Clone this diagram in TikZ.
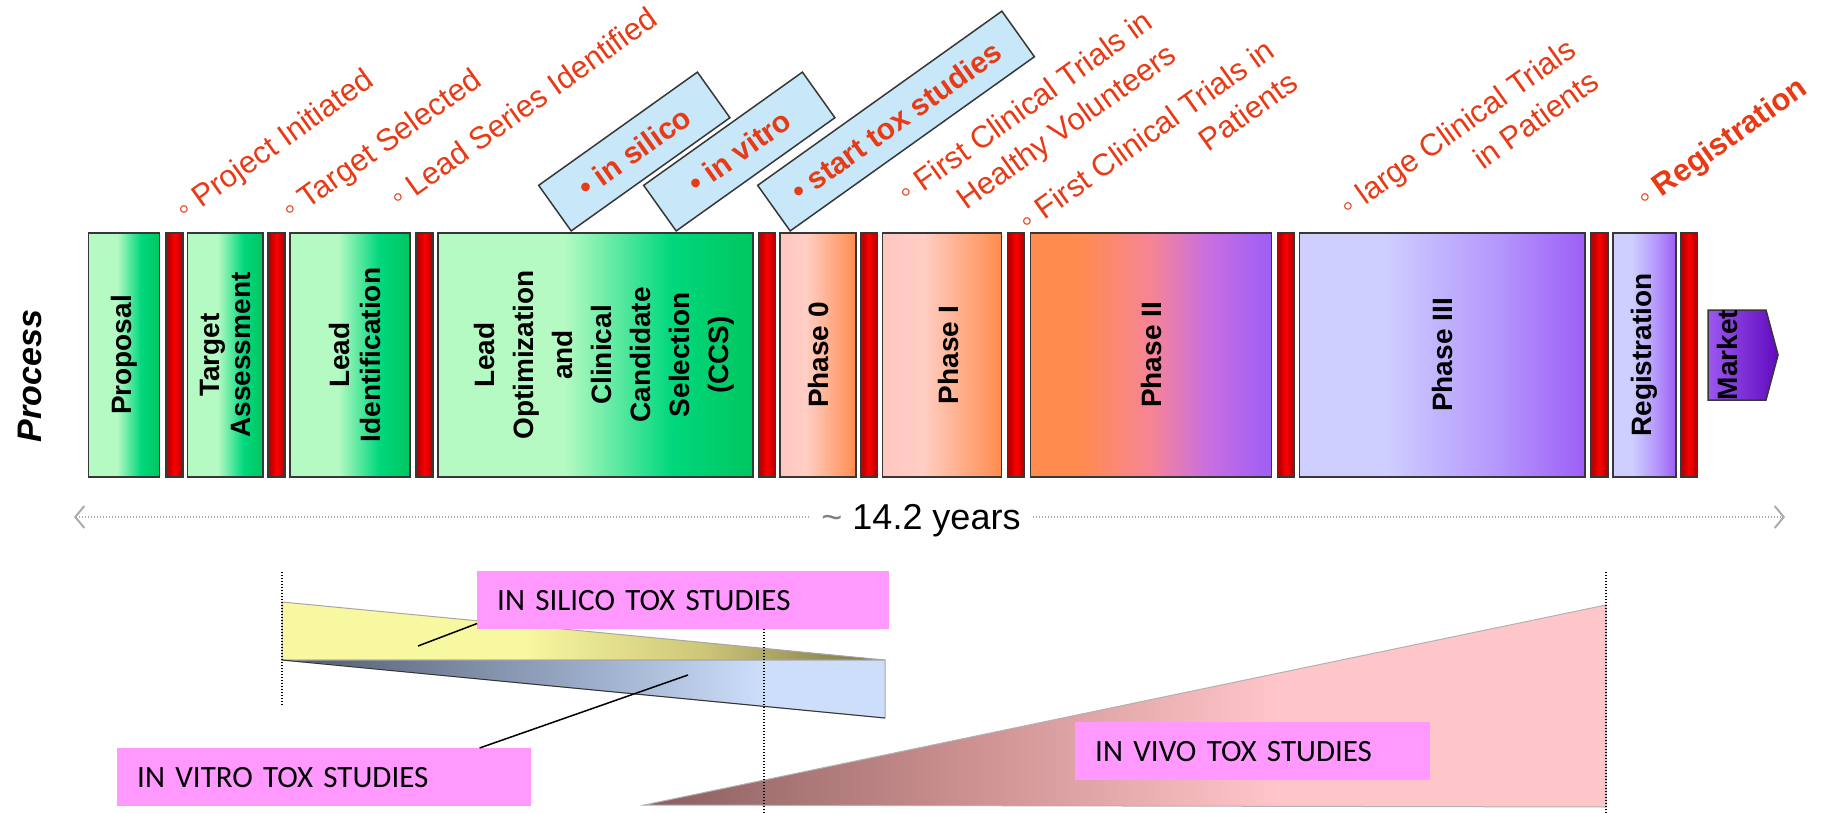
\documentclass[tikz,border=0pt]{standalone}
\usepackage{fontspec}
\setmainfont{Liberation Sans}
\newfontfamily\calib{Carlito}
\usepackage{xcolor}
\usepackage{tikz}
\usetikzlibrary{arrows.meta,positioning,calc,shapes.symbols}
\definecolor{msred}{RGB}{232,58,20}
\definecolor{toxblue}{RGB}{200,232,250}
\definecolor{edgegray}{RGB}{55,55,55}
\definecolor{studypink}{RGB}{255,153,255}
\definecolor{gLight}{RGB}{182,250,195}
\definecolor{gMid}{RGB}{0,216,125}
\definecolor{gDark}{RGB}{0,198,95}
\definecolor{oLight}{RGB}{255,198,192}
\definecolor{oPale}{RGB}{255,206,196}
\definecolor{oDeep}{RGB}{255,140,78}
\definecolor{pPink}{RGB}{246,132,150}
\definecolor{pMag}{RGB}{200,110,225}
\definecolor{pDeep}{RGB}{158,94,246}
\definecolor{lavLight}{RGB}{206,206,255}
\definecolor{lavMid}{RGB}{180,150,252}
\definecolor{mkLight}{RGB}{155,88,240}
\definecolor{mkDark}{RGB}{98,10,190}
\definecolor{rDark}{RGB}{190,0,0}
\definecolor{rBright}{RGB}{255,0,0}
\definecolor{yLight}{RGB}{248,248,160}
\definecolor{yMid}{RGB}{205,198,120}
\definecolor{yDark}{RGB}{118,112,68}
\definecolor{sDark}{RGB}{78,88,108}
\definecolor{sMid}{RGB}{155,172,200}
\definecolor{sLight}{RGB}{204,222,250}
\definecolor{vDark}{RGB}{138,94,94}
\definecolor{vMid}{RGB}{205,145,145}
\definecolor{vLight}{RGB}{255,198,202}
\pgfdeclarehorizontalshading{greenstage}{100bp}{color(0bp)=(gLight); color(25bp)=(gLight); color(45bp)=(gLight); color(62bp)=(gMid); color(75bp)=(gDark); color(100bp)=(gDark)}
\pgfdeclarehorizontalshading{orangestage}{100bp}{color(0bp)=(oLight); color(25bp)=(oLight); color(42bp)=(oPale); color(75bp)=(oDeep); color(100bp)=(oDeep)}
\pgfdeclarehorizontalshading{phasetwo}{100bp}{color(0bp)=(oDeep); color(25bp)=(oDeep); color(35bp)=(oDeep); color(50bp)=(pPink); color(62bp)=(pMag); color(75bp)=(pDeep); color(100bp)=(pDeep)}
\pgfdeclarehorizontalshading{lavstage}{100bp}{color(0bp)=(lavLight); color(25bp)=(lavLight); color(40bp)=(lavLight); color(60bp)=(lavMid); color(75bp)=(pDeep); color(100bp)=(pDeep)}
\pgfdeclarehorizontalshading{marketfill}{100bp}{color(0bp)=(mkLight); color(25bp)=(mkLight); color(75bp)=(mkDark); color(100bp)=(mkDark)}
\pgfdeclarehorizontalshading{redgate}{100bp}{color(0bp)=(rDark); color(25bp)=(rDark); color(32bp)=(rDark); color(50bp)=(rBright); color(68bp)=(rDark); color(75bp)=(rDark); color(100bp)=(rDark)}
\pgfdeclarehorizontalshading{yellowtox}{100bp}{color(0bp)=(yLight); color(25bp)=(yLight); color(45bp)=(yLight); color(60bp)=(yMid); color(75bp)=(yDark); color(100bp)=(yDark)}
\pgfdeclarehorizontalshading{slatetox}{100bp}{color(0bp)=(sDark); color(25bp)=(sDark); color(50bp)=(sMid); color(65bp)=(sLight); color(100bp)=(sLight)}
\pgfdeclarehorizontalshading{vivotox}{100bp}{color(0bp)=(vDark); color(25bp)=(vDark); color(42bp)=(vMid); color(58bp)=(vLight); color(100bp)=(vLight)}

\begin{document}
\begin{tikzpicture}[x=1pt, y=-1pt,
    stage/.style={draw=edgegray, line width=1.5pt, shade, minimum height=244pt, inner sep=0pt},
    gate/.style={stage, shading=redgate, minimum width=17pt},
    vlabel/.style={rotate=90, align=center, inner sep=0pt, font=\bfseries\fontsize{28}{31}\selectfont},
    milestone/.style={rotate=35.5, align=right, inner sep=0pt, text=msred, font=\fontsize{31}{40}\selectfont},
    toxbox/.style={rotate=35.5, anchor=south west, draw=edgegray, line width=1.5pt, fill=toxblue, minimum height=56pt, text=msred, font=\bfseries\fontsize{30}{36}\selectfont},
    studybox/.style={anchor=north west, fill=studypink, minimum height=58pt, inner xsep=20pt, inner ysep=0pt, align=left, font=\calib\fontsize{31}{37}\selectfont},
    guide/.style={black, line width=1.2pt, dash pattern=on 1pt off 2pt},
    dotrule/.style={draw=gray!65, line width=1.5pt, dash pattern=on 1.2pt off 1.8pt, -{Straight Barb[length=9pt,width=22pt,line width=2pt]}},
    lead/.style={black, line width=1.5pt}
  ]
    \fill[white] (0,0) rectangle (1826,813);
    \useasboundingbox (0,0) rectangle (1826,813);

    \node[rotate=90, font=\bfseries\itshape\fontsize{34}{40}\selectfont] (process) at (30,376) {Process};

    % stages
    \node[stage, shading=greenstage, minimum width=71pt] (proposal) at (124,355) {};
    \node[stage, shading=greenstage, minimum width=75.5pt] (target) at (225.3,355) {};
    \node[stage, shading=greenstage, minimum width=120pt] (leadid) at (350,355) {};
    \node[stage, shading=greenstage, minimum width=315pt] (leadopt) at (595.5,355) {};
    \node[stage, shading=orangestage, minimum width=76pt] (phase0) at (818,355) {};
    \node[stage, shading=orangestage, minimum width=119pt] (phase1) at (942,355) {};
    \node[stage, shading=phasetwo, minimum width=241pt] (phase2) at (1151,355) {};
    \node[stage, shading=lavstage, minimum width=285.4pt] (phase3) at (1442.3,355) {};
    \node[stage, shading=lavstage, minimum width=63pt] (regist) at (1644.5,355) {};
    \foreach \gx [count=\i] in {174.6,276.5,424.5,767,869,1016,1286,1599.3,1689}
      \node[gate] (gate\i) at (\gx,355) {};
    \node[stage, shading=marketfill, signal, signal to=east, signal pointer angle=150, minimum width=70pt, minimum height=90pt] (market) at (1737,355) {};

    \node[vlabel] (proposalT) at (proposal) {Proposal};
    \node[vlabel] (targetT) at (target) {Target\\Assessment};
    \node[vlabel] (leadidT) at ([xshift=5pt]leadid.center) {Lead\\Identification};
    \node[vlabel, font=\bfseries\fontsize{28}{39}\selectfont] (leadoptT) at ([xshift=9pt]leadopt.center) {Lead\\Optimization\\and\\Clinical\\Candidate\\Selection\\(CCS)};
    \node[vlabel] (phase0T) at (phase0) {Phase 0};
    \node[vlabel] (phase1T) at ([xshift=6pt]phase1.center) {Phase I};
    \node[vlabel] (phase2T) at (phase2) {Phase II};
    \node[vlabel] (phase3T) at (phase3) {Phase III};
    \node[vlabel] (registT) at (regist) {Registration};
    \node[vlabel] (marketT) at ([xshift=-10pt]market.center) {Market};

    % milestones
    \node[milestone] (msProj) at (276,146) {◦ Project Initiated};
    \node[milestone] (msTarget) at (383,146) {◦ Target Selected};
    \node[milestone] (msLead) at (523,107) {◦ Lead Series Identified};
    \node[milestone] (msHealthy) at (1038,125) {◦ First Clinical Trials in\\Healthy Volunteers};
    \node[milestone] (msPatients) at (1158,151) {◦ First Clinical Trials in\\Patients};
    \node[milestone] (msLarge) at (1469,143) {◦ large Clinical Trials\\in Patients};
    \node[milestone, font=\bfseries\fontsize{31}{40}\selectfont] (msReg) at (1723,144) {◦ Registration};

    \node[toxbox, minimum width=195pt] (silicoTag) at (571,232) {• in silico};
    \node[toxbox, minimum width=195pt] (vitroTag) at (676,232) {• in vitro};
    \node[toxbox, minimum width=300pt] (toxTag) at (790,232) {• start tox studies};

    % time span
    \coordinate (spanL) at (74,517);
    \coordinate (spanR) at (1785,517);
    \node[font=\fontsize{36}{40}\selectfont, inner xsep=12pt, inner ysep=0pt] (yrs) at (921,521) {\textcolor{gray}{\textasciitilde} 14.2 years};
    \draw[dotrule] (yrs.west |- spanL) -- (spanL);
    \draw[dotrule] (yrs.east |- spanR) -- (spanR);

    % tox studies
    \shade[shading=yellowtox, draw=gray!70, line width=1pt] (282,602) -- (885,660) -- (282,660) -- cycle;
    \shade[shading=slatetox, draw=gray!70, line width=1pt] (282,660) -- (885,660) -- (885,718) -- cycle;
    \draw[black!80, line width=1pt] (282,660) -- (885,718);
    \shade[shading=vivotox, draw=gray!60, line width=1pt] (644,805) -- (1606,605) -- (1606,807) -- cycle;

    \draw[guide] (282,572) -- (282,705);
    \draw[guide] (764,629) -- (764,813);
    \draw[guide] (1606,572) -- (1606,813);

    \node[studybox, text width=372pt] (silicoBox) at (477,571) {IN SILICO TOX STUDIES};
    \node[studybox, text width=374pt] (vitroBox) at (117,748) {IN VITRO TOX STUDIES};
    \node[studybox, text width=315pt] (vivoBox) at (1075,722) {IN VIVO TOX STUDIES};

    \coordinate (silicoPt) at (418,646);
    \coordinate (vitroPt) at (688,675);
    \draw[lead] (silicoPt) -- ($(silicoBox.south west)!0.1!(silicoBox.north west)$);
    \draw[lead] (vitroPt) -- ($(vitroBox.north west)!0.875!(vitroBox.north east)$);
  \end{tikzpicture}
\end{document}
